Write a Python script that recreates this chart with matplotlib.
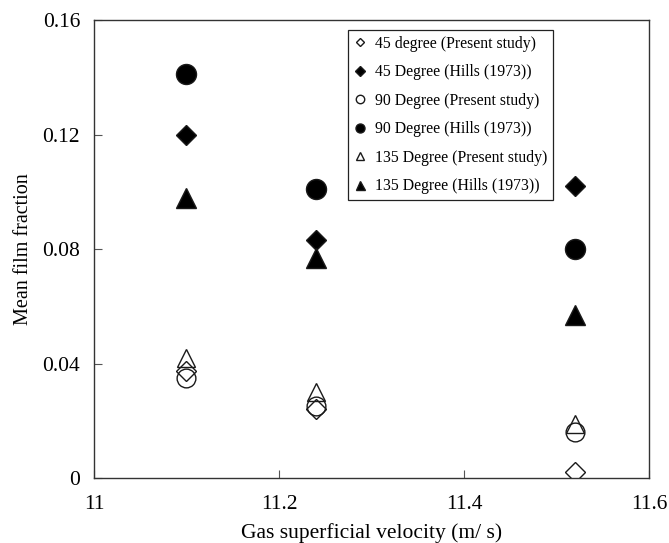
import matplotlib
matplotlib.use("Agg")
from matplotlib import pyplot as plt

plt.rcParams['font.family'] = ['Liberation Serif', 'DejaVu Serif']

# gas superficial velocity (m/s) for the three test conditions
velocity = [11.1, 11.24, 11.52]

# mean film fraction per pipe inclination
present_45 = [0.0375, 0.024, 0.002]
hills_45 = [0.120, 0.083, 0.102]
present_90 = [0.035, 0.025, 0.016]
hills_90 = [0.141, 0.101, 0.080]
present_135 = [0.042, 0.030, 0.019]
hills_135 = [0.098, 0.077, 0.057]

series = [
    ('45 degree (Present study)', present_45, 'D', 'none', 10.0),
    ('45 Degree (Hills (1973))', hills_45, 'D', 'k', 10.2),
    ('90 Degree (Present study)', present_90, 'o', 'none', 13.5),
    ('90 Degree (Hills (1973))', hills_90, 'o', 'k', 14.4),
    ('135 Degree (Present study)', present_135, '^', 'none', 13.5),
    ('135 Degree (Hills (1973))', hills_135, '^', 'k', 14.4),
]

fig = plt.figure(figsize=(6.69, 5.43), dpi=100)
ax = fig.add_axes([0.1405, 0.1197, 0.8296, 0.8433])

for label, vals, marker, face, size in series:
    ax.plot(velocity, vals, linestyle='none', marker=marker, markersize=size,
            markerfacecolor=face, markeredgecolor='#1a1a1a', markeredgewidth=1.0,
            label=label)

ax.set_xlim(11, 11.6)
ax.set_ylim(0, 0.16)
ax.set_xticks([11, 11.2, 11.4, 11.6])
ax.set_xticklabels(['11', '11.2', '11.4', '11.6'])
ax.set_yticks([0, 0.04, 0.08, 0.12, 0.16])
ax.set_yticklabels(['0', '0.04', '0.08', '0.12', '0.16'])
ax.tick_params(direction='in', length=6, width=0.8, color='#555555',
               labelsize=15.5, top=False, right=False)
ax.tick_params(axis='x', pad=12)
ax.tick_params(axis='y', pad=10)
for sp in ax.spines.values():
    sp.set_linewidth(1.0)
    sp.set_color('#333333')

ax.set_xlabel('Gas superficial velocity (m/ s)', fontsize=15.5, labelpad=7)
ax.set_ylabel('Mean film fraction', fontsize=14.5, labelpad=7)

leg = ax.legend(loc='upper left', bbox_to_anchor=(0.4577, 0.978), fontsize=11.3,
                markerscale=0.45, handlelength=0.8, handletextpad=0.6,
                labelspacing=0.8, borderpad=0.35, borderaxespad=0,
                fancybox=False, framealpha=1, edgecolor='#222222')
leg.get_frame().set_linewidth(0.9)

fig.savefig('out.png', dpi=100)
